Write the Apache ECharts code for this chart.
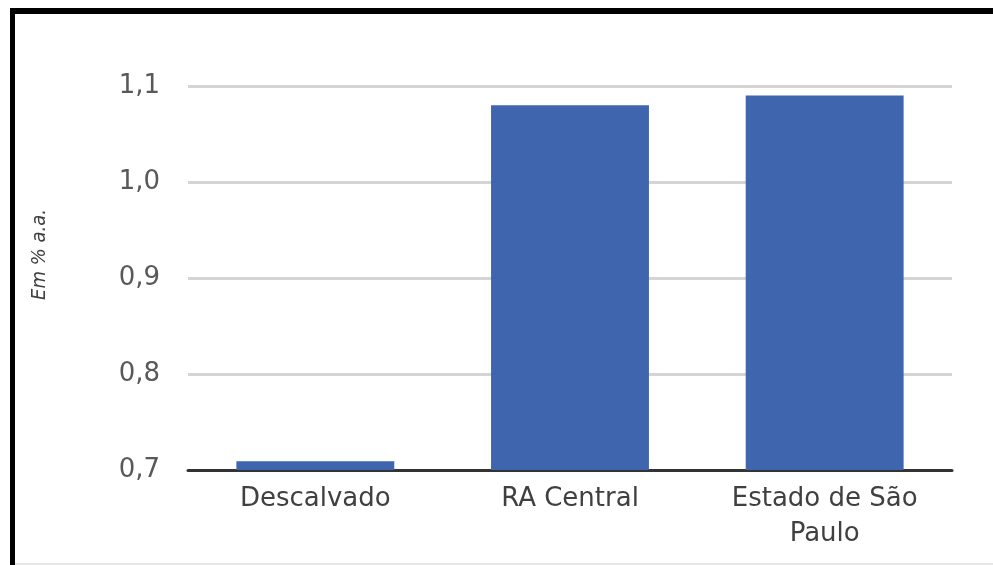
<!DOCTYPE html>
<html>
<head>
<meta charset="utf-8">
<script src="https://cdn.jsdelivr.net/npm/echarts@6/dist/echarts.min.js"></script>
<style>html,body{margin:0;padding:0;background:#fff;}#c{width:993px;height:565px;}</style>
</head>
<body>
<div id="c"></div>
<script>
const categories = ['Descalvado', 'RA Central', 'Estado de São\nPaulo'];
const values = [0.709, 1.08, 1.09];
const yTicks = { min: 0.7, max: 1.1, interval: 0.1 };
const yTitle = 'Em % a.a.';

const chart = echarts.init(document.getElementById('c'), null, { renderer: 'canvas' });
const font = '"DejaVu Sans", sans-serif';
chart.setOption({
  animation: false,
  backgroundColor: '#fff',
  graphic: [
    { type: 'rect', shape: { x: 10, y: 8, width: 983, height: 6 }, style: { fill: '#000' } },
    { type: 'rect', shape: { x: 10, y: 8, width: 5, height: 557 }, style: { fill: '#000' } },
    { type: 'rect', shape: { x: 15, y: 563, width: 978, height: 2 }, style: { fill: '#e6e6e6' } },
    { type: 'text', left: 30, top: 209, rotation: Math.PI / 2,
      style: { text: yTitle, font: 'italic 20px "DejaVu Sans Condensed", sans-serif', fill: '#404040' } }
  ],
  grid: { left: 188, right: 41, top: 86, bottom: 95 },
  xAxis: {
    type: 'category',
    data: categories,
    axisLine: { lineStyle: { color: '#333', width: 3 } },
    axisTick: { show: false },
    axisLabel: { color: '#404040', fontSize: 26, fontFamily: font, margin: 12, lineHeight: 35, interval: 0 }
  },
  yAxis: {
    type: 'value',
    min: yTicks.min, max: yTicks.max, interval: yTicks.interval,
    axisLine: { show: false },
    axisTick: { show: false },
    splitLine: { lineStyle: { color: '#d4d4d4', width: 3 } },
    axisLabel: { color: '#595959', fontSize: 26, fontFamily: font, margin: 28,
      formatter: v => v.toFixed(1).replace('.', ',') }
  },
  series: [{
    type: 'bar',
    data: values,
    barWidth: '62%',
    itemStyle: { color: '#3f65ae' }
  }]
});
</script>
</body>
</html>
